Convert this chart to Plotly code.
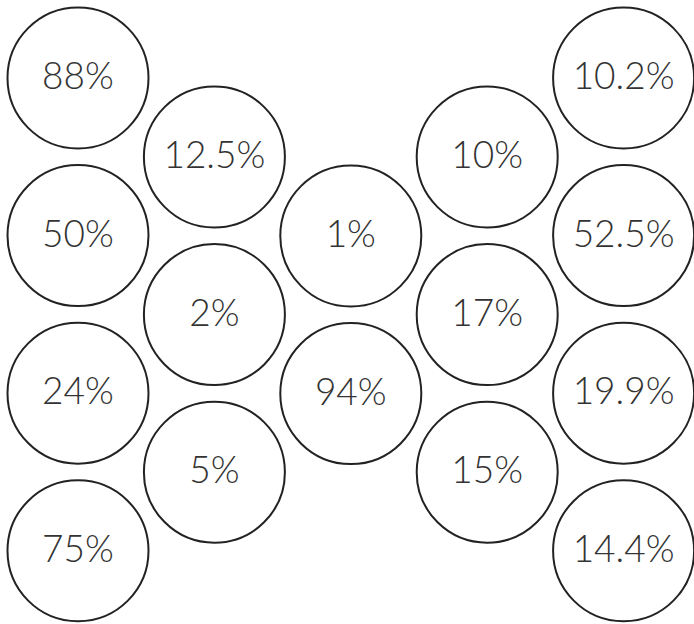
import plotly.graph_objects as go

# Values per column (top to bottom), in percent
col_1 = [88, 50, 24, 75]
col_2 = [12.5, 2, 5]
col_3 = [1, 94]
col_4 = [10, 17, 15]
col_5 = [10.2, 52.5, 19.9, 14.4]

columns = [col_1, col_2, col_3, col_4, col_5]

# hex-grid layout
x0, dx = 78, 136.4
dy = 157.6
row_start = {4: 78, 3: 157, 2: 236}
text_dy = 2

xs, ys, texts = [], [], []
for ci, col in enumerate(columns):
    start = row_start[len(col)]
    for ri, v in enumerate(col):
        xs.append(x0 + ci * dx)
        ys.append(start + ri * dy)
        texts.append(f"{v:g}%")

fig = go.Figure()
fig.add_trace(go.Scatter(
    x=xs, y=ys, mode="markers",
    marker=dict(size=141, color="white", line=dict(color="#222222", width=2)),
    hoverinfo="skip", cliponaxis=False,
))
fig.add_trace(go.Scatter(
    x=xs, y=[y + text_dy for y in ys], text=texts,
    mode="text", textposition="middle center",
    textfont=dict(family="Lato", size=37, color="#333333", weight=300),
    hoverinfo="skip", cliponaxis=False,
))

fig.update_layout(
    width=694, height=624,
    margin=dict(l=0, r=0, t=0, b=0),
    paper_bgcolor="white", plot_bgcolor="white",
    showlegend=False,
    xaxis=dict(range=[0, 694], visible=False, fixedrange=True),
    yaxis=dict(range=[624, 0], visible=False, fixedrange=True),
)

fig.write_html(
    "out.html",
    config={"displayModeBar": False},
    post_script="document.body.style.margin='0';document.body.style.overflow='hidden';",
)
